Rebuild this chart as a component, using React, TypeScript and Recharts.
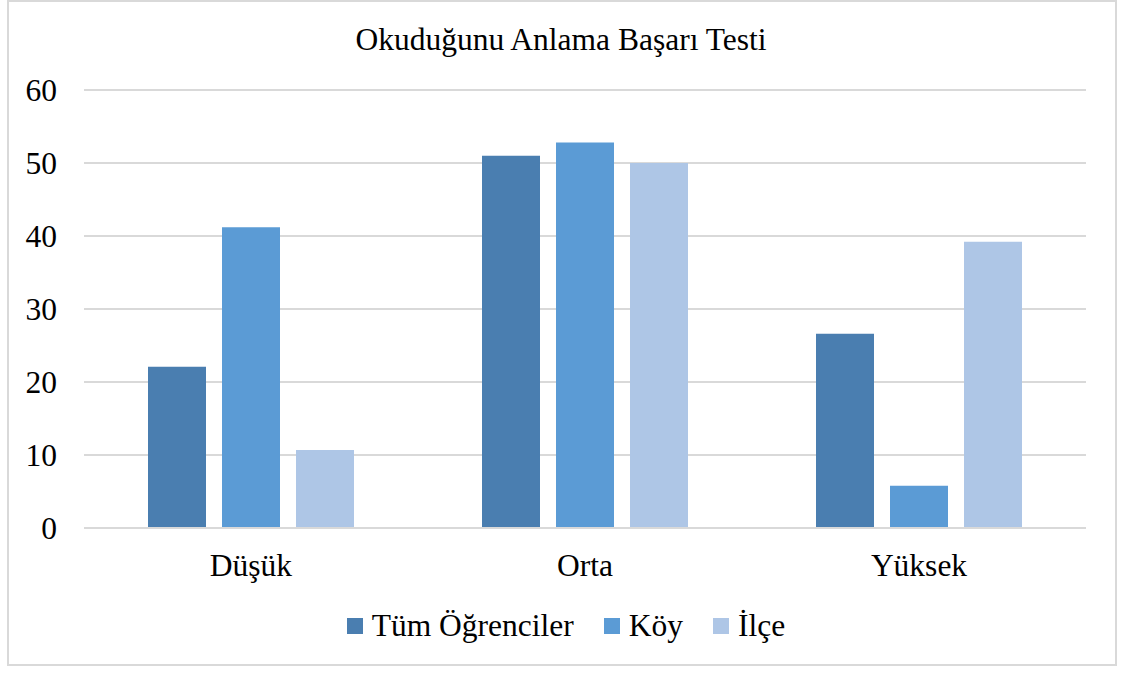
import { BarChart, Bar, XAxis, YAxis, CartesianGrid, Legend } from 'recharts';

const categories = ['Düşük', 'Orta', 'Yüksek'];
const tumOgrenciler = [22.1, 51, 26.6];
const koy = [41.2, 52.8, 5.8];
const ilce = [10.7, 50, 39.2];
const yTicks = [0, 10, 20, 30, 40, 50, 60];

const seriesNames = ['Tüm Öğrenciler', 'Köy', 'İlçe'];
const seriesColors = ['#4a7eb0', '#5b9bd5', '#aec6e6'];

const data = categories.map((name, i) => ({
  name,
  tum: tumOgrenciler[i],
  koy: koy[i],
  ilce: ilce[i],
}));

const FONT = "'Liberation Serif', 'DejaVu Serif', serif";

const LegendContent = () => (
  <div
    style={{
      display: 'flex',
      justifyContent: 'center',
      alignItems: 'center',
      fontFamily: FONT,
      fontSize: 31.5,
      color: '#000',
      paddingLeft: 8,
    }}
  >
    {seriesNames.map((n, i) => (
      <div key={n} style={{ display: 'flex', alignItems: 'center', marginRight: i < 2 ? 30 : 0 }}>
        <span style={{ width: 16, height: 16, background: seriesColors[i], marginRight: 9, display: 'inline-block' }} />
        <span>{n}</span>
      </div>
    ))}
  </div>
);

const App = () => {
  return (
    <div style={{ position: 'absolute', left: 0, top: 0, width: 1124, height: 673, background: '#fff', fontFamily: FONT }}>
      <div
        style={{
          position: 'absolute',
          left: 7,
          top: 0,
          width: 1106,
          height: 662,
          border: '2px solid #d9d9d9',
        }}
      />
      <svg style={{ position: 'absolute', left: 0, top: 0 }} width={1124} height={80}>
        <text x={561} y={50} textAnchor="middle" style={{ fontFamily: FONT, fontSize: 31.5 }} fill="#000">
          Okuduğunu Anlama Başarı Testi
        </text>
      </svg>
      <div style={{ position: 'absolute', left: 0, top: 0 }}>
        <BarChart
          width={1124}
          height={673}
          data={data}
          margin={{ top: 90, right: 38, left: 24, bottom: 85 }}
          barSize={58}
          barGap={16}
          style={{ fontFamily: FONT }}
        >
          <CartesianGrid vertical={false} stroke="#d9d9d9" strokeWidth={2} />
          <XAxis
            dataKey="name"
            height={60}
            axisLine={{ stroke: '#d9d9d9', strokeWidth: 2 }}
            tickLine={false}
            tickSize={0}
            tickMargin={26}
            tick={{ fill: '#000', fontSize: 31.5, fontFamily: FONT }}
          />
          <YAxis
            width={60}
            domain={[0, 60]}
            ticks={yTicks}
            axisLine={false}
            tickLine={false}
            tickSize={0}
            tickMargin={27}
            tick={{ fill: '#000', fontSize: 31.5, fontFamily: FONT }}
          />
          <Legend
            verticalAlign="middle"
            layout="horizontal"
            align="center"
            wrapperStyle={{ top: 608, left: 0, width: 1124 }}
            content={<LegendContent />}
          />
          <Bar dataKey="tum" name={seriesNames[0]} fill={seriesColors[0]} isAnimationActive={false} />
          <Bar dataKey="koy" name={seriesNames[1]} fill={seriesColors[1]} isAnimationActive={false} />
          <Bar dataKey="ilce" name={seriesNames[2]} fill={seriesColors[2]} isAnimationActive={false} />
        </BarChart>
      </div>
    </div>
  );
};

export default App;
